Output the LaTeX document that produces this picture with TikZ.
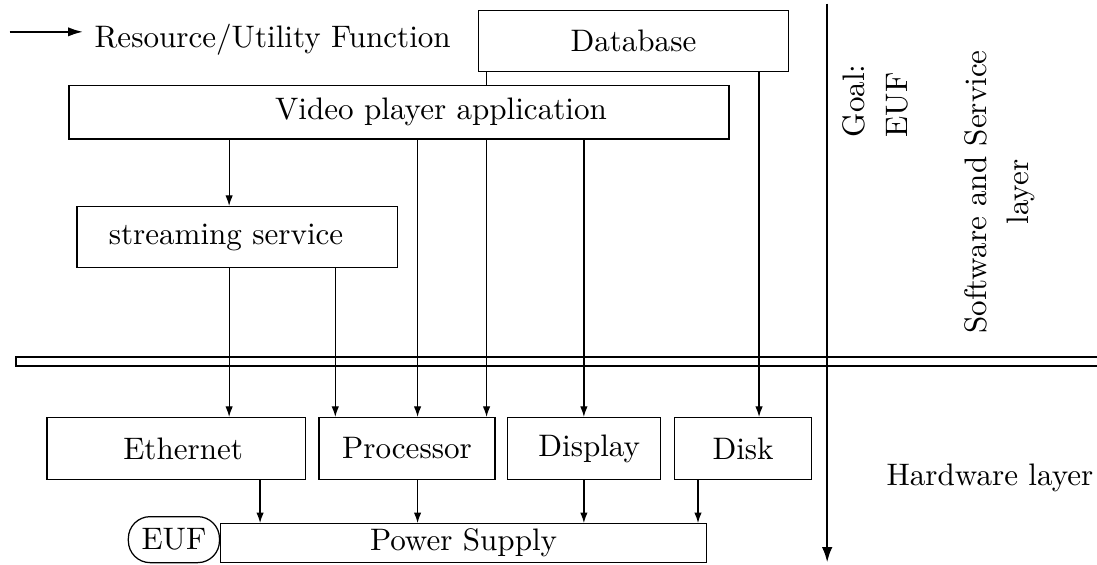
\documentclass[tikz,border=0pt]{standalone}
\usepackage{tikz}
\usetikzlibrary{arrows.meta, positioning, calc, backgrounds}

\begin{document}
\begin{tikzpicture}[
    block/.style={rectangle, draw, fill=white, minimum height=0.69cm,
                  inner sep=2pt},
    flow/.style={-{Latex[length=3.4pt, width=2.4pt]}},
    layer/.style={rotate=90, font=\fontsize{10pt}{13.8pt}\selectfont}
]
    \useasboundingbox (0,0) rectangle (12.40,6.38);

    % Legend
    \coordinate (legtail) at (0.11,6.02);
    \node[anchor=west] (legend) at (0.945,5.93) {Resource/Utility Function};
    \draw[thick, -{Latex[length=5pt, width=3pt]}] (legtail) -- (legtail -| legend.west);

    % Software and service layer
    \node[block, minimum width=3.51cm] (db) at (7.16,5.92) {Database};
    \node[block, minimum width=7.46cm, minimum height=0.60cm] (video) at (4.51,5.11)
        {\hspace*{0.95cm}Video player application};
    \node[block, minimum width=3.62cm] (stream) at (2.68,3.70) {streaming service\hspace*{0.25cm}};

    % Hardware layer
    \node[block, minimum width=2.92cm, minimum height=0.70cm] (eth) at (1.99,1.31)
        {\hspace*{0.16cm}\raisebox{-1.5pt}{Ethernet}};
    \node[block, minimum width=1.99cm, minimum height=0.70cm] (proc) at (4.60,1.31)
        {\raisebox{-1.5pt}{Processor}};
    \node[block, minimum width=1.73cm, minimum height=0.70cm] (disp) at (6.60,1.31)
        {\hspace*{0.12cm}Display};
    \node[block, minimum width=1.55cm, minimum height=0.70cm] (disk) at (8.40,1.31) {Disk};
    \node[block, minimum width=5.49cm, minimum height=0.44cm, inner ysep=0pt] (power)
        at (5.24,0.24) {Power Supply};
    \node[draw, rounded corners=7pt, minimum width=1.03cm, minimum height=0.52cm,
          inner sep=1pt, anchor=south east] (euf) at (power.south west) {EUF};

    % Layer separators
    \draw[semithick] (0.18,2.24) rectangle (12.45,2.34);
    \coordinate (divtop) at (9.35,6.34);
    \coordinate (divbot) at (9.35,0.02);
    \draw[thick, -{Latex[length=5pt, width=3.4pt]}] (divtop) -- (divbot);

    % Layer labels
    \node[layer, align=left] (goal) at (9.90,5.24) {Goal:\\EUF};
    \node[layer, align=center] (swlayer) at (11.30,4.21) {Software and Service\\layer};
    \node (hwlayer) at (11.19,0.98) {Hardware layer};

    % Resource/utility functions
    \begin{scope}[on background layer]
        \draw[flow] (db.south -| 5.50,0) -- (proc.north -| 5.50,0);
    \end{scope}
    \draw[flow] (video.south -| 2.59,0) -- (stream.north -| 2.59,0);
    \draw[flow] (video.south -| 4.72,0) -- (proc.north -| 4.72,0);
    \draw[flow] (video.south -| 6.60,0) -- (disp.north -| 6.60,0);
    \draw[flow] (db.south -| 8.58,0) -- (disk.north -| 8.58,0);
    \draw[flow] (stream.south -| 2.59,0) -- (eth.north -| 2.59,0);
    \draw[flow] (stream.south -| 3.79,0) -- (proc.north -| 3.79,0);

    \draw[flow] (eth.south -| 2.94,0) -- (power.north -| 2.94,0);
    \draw[flow] (proc.south -| 4.72,0) -- (power.north -| 4.72,0);
    \draw[flow] (disp.south -| 6.60,0) -- (power.north -| 6.60,0);
    \draw[flow] (disk.south -| 7.89,0) -- (power.north -| 7.89,0);
\end{tikzpicture}
\end{document}
